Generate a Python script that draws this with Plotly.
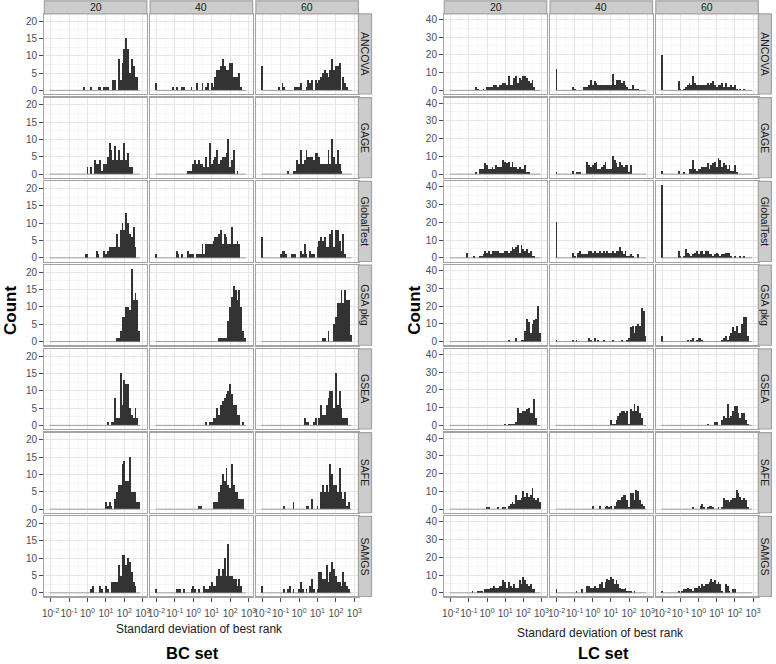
import plotly.graph_objects as go

# ---------------- data (histogram counts per log10 bin centre) ----------------
METHODS = ["ANCOVA", "GAGE", "GlobalTest", "GSA pkg", "GSEA", "SAFE", "SAMGS"]
GROUPS = ["20", "40", "60"]
BIN_WIDTH = 0.1
X_TICKS = [-2, -1, 0, 1, 2, 3]
X_TICK_TEXT = ["10<sup>-2</sup>", "10<sup>-1</sup>", "10<sup>0</sup>", "10<sup>1</sup>", "10<sup>2</sup>", "10<sup>3</sup>"]
X_MINOR = [-1.5, -0.5, 0.5, 1.5, 2.5]
BC_Y_TICKS = [0, 5, 10, 15, 20]
BC_Y_MINOR = [2.5, 7.5, 12.5, 17.5]
LC_Y_TICKS = [0, 10, 20, 30, 40]
LC_Y_MINOR = [5, 15, 25, 35]

BC_ANCOVA = {
    "20": {-0.2: 1, 0.2: 1, 0.6: 1, 0.7: 1, 0.9: 1, 1.0: 1, 1.1: 1, 1.4: 3, 1.5: 3, 1.7: 9, 1.8: 3, 1.9: 8, 2.0: 12,
           2.1: 15, 2.2: 12, 2.3: 5, 2.4: 9, 2.5: 7, 2.6: 4, 2.7: 4},
    "40": {-2.0: 2, -1.1: 1, -0.9: 1, -0.6: 1, -0.5: 1, -0.1: 1, 0.2: 2, 0.5: 2, 0.7: 1, 0.8: 2, 1.0: 2, 1.1: 1, 1.2: 4,
           1.3: 6, 1.4: 6, 1.5: 7, 1.6: 9, 1.7: 7, 1.8: 6, 1.9: 6, 2.0: 8, 2.1: 8, 2.2: 4, 2.3: 4, 2.4: 4, 2.5: 5, 2.6: 1},
    "60": {-2.0: 7, -1.1: 1, -0.9: 2, -0.8: 1, -0.2: 1, -0.1: 1, 0.0: 1, 0.1: 2, 0.4: 1, 0.5: 3, 0.6: 2, 0.7: 3, 0.9: 3,
           1.0: 2, 1.1: 3, 1.2: 4, 1.3: 5, 1.4: 6, 1.5: 5, 1.6: 4, 1.7: 6, 1.8: 9, 1.9: 6, 2.0: 7, 2.1: 7, 2.2: 8, 2.4: 4,
           2.5: 2, 2.6: 1},
}
BC_GAGE = {
    "20": {0.0: 2, 0.2: 2, 0.4: 4, 0.5: 3, 0.6: 3, 0.7: 4, 0.8: 1, 0.9: 3, 1.0: 3, 1.1: 5, 1.2: 9, 1.3: 7, 1.4: 4, 1.5: 8,
           1.6: 4, 1.7: 7, 1.8: 4, 1.9: 4, 2.0: 9, 2.1: 4, 2.2: 6, 2.3: 2, 2.4: 2},
    "40": {-0.3: 1, -0.2: 1, -0.1: 1, 0.0: 3, 0.1: 4, 0.2: 3, 0.3: 4, 0.4: 3, 0.5: 3, 0.6: 2, 0.7: 5, 0.8: 2, 0.9: 9,
           1.0: 3, 1.1: 4, 1.2: 5, 1.3: 7, 1.4: 3, 1.5: 4, 1.6: 5, 1.7: 5, 1.8: 6, 1.9: 10, 2.0: 2, 2.1: 4, 2.2: 7, 2.4: 1},
    "60": {-0.6: 1, -0.3: 1, -0.2: 1, -0.1: 4, 0.0: 3, 0.1: 7, 0.2: 3, 0.3: 4, 0.4: 7, 0.5: 5, 0.6: 5, 0.7: 5, 0.8: 4,
           0.9: 6, 1.0: 6, 1.1: 5, 1.2: 3, 1.3: 3, 1.4: 3, 1.5: 3, 1.6: 7, 1.7: 3, 1.8: 10, 1.9: 5, 2.0: 3, 2.1: 7, 2.2: 3,
           2.3: 1},
}
BC_GLOBALTEST = {
    "20": {-0.1: 1, 0.0: 1, 0.5: 2, 0.6: 1, 0.9: 2, 1.0: 1, 1.1: 2, 1.2: 3, 1.3: 3, 1.4: 3, 1.5: 3, 1.6: 7, 1.7: 3,
           1.8: 8, 1.9: 10, 2.0: 8, 2.1: 13, 2.2: 10, 2.3: 7, 2.4: 6, 2.5: 9, 2.6: 3},
    "40": {-2.0: 1, -0.9: 2, -0.8: 1, -0.6: 1, -0.3: 2, -0.2: 1, -0.1: 1, 0.0: 1, 0.2: 1, 0.3: 1, 0.4: 1, 0.5: 4, 0.6: 1,
           0.7: 4, 0.8: 4, 0.9: 4, 1.0: 4, 1.1: 5, 1.2: 6, 1.3: 6, 1.4: 7, 1.5: 8, 1.6: 4, 1.7: 7, 1.8: 6, 1.9: 4, 2.0: 4,
           2.1: 9, 2.2: 4, 2.3: 4, 2.4: 5, 2.5: 4},
    "60": {-2.0: 6, -1.0: 1, -0.9: 2, -0.8: 2, -0.7: 1, -0.4: 1, -0.3: 1, -0.2: 1, 0.1: 2, 0.2: 1, 0.3: 4, 0.4: 1, 0.6: 2,
           0.7: 1, 0.8: 1, 1.0: 3, 1.1: 5, 1.2: 6, 1.3: 5, 1.4: 6, 1.5: 3, 1.6: 3, 1.7: 7, 1.8: 8, 1.9: 3, 2.0: 8, 2.1: 8,
           2.2: 5, 2.3: 2, 2.4: 7, 2.5: 1},
}
BC_GSAPKG = {
    "20": {1.6: 1, 1.7: 1, 1.8: 3, 1.9: 7, 2.0: 7, 2.1: 10, 2.2: 10, 2.3: 9, 2.4: 21, 2.5: 12, 2.6: 14, 2.7: 12, 2.8: 3},
    "40": {1.4: 1, 1.5: 1, 1.6: 1, 1.7: 1, 1.8: 1, 1.9: 6, 2.0: 10, 2.1: 13, 2.2: 16, 2.3: 15, 2.4: 12, 2.5: 15, 2.6: 10,
           2.7: 3, 2.8: 1},
    "60": {1.3: 1, 1.4: 1, 1.6: 3, 1.9: 5, 2.0: 7, 2.1: 11, 2.2: 11, 2.3: 15, 2.4: 11, 2.5: 15, 2.6: 12, 2.7: 12, 2.8: 2},
}
BC_GSEA = {
    "20": {1.1: 1, 1.3: 1, 1.4: 1, 1.5: 8, 1.6: 2, 1.7: 2, 1.8: 15, 1.9: 6, 2.0: 13, 2.1: 12, 2.2: 12, 2.3: 5, 2.4: 3,
           2.5: 2, 2.6: 5, 2.7: 2},
    "40": {0.7: 1, 0.9: 1, 1.0: 1, 1.1: 2, 1.2: 2, 1.3: 5, 1.4: 3, 1.5: 6, 1.6: 7, 1.7: 8, 1.8: 9, 1.9: 10, 2.0: 12,
           2.1: 9, 2.2: 6, 2.3: 6, 2.4: 3, 2.5: 3, 2.7: 1},
    "60": {0.3: 2, 0.4: 1, 0.5: 1, 0.8: 1, 0.9: 2, 1.1: 2, 1.2: 6, 1.3: 3, 1.4: 3, 1.5: 6, 1.6: 8, 1.7: 10, 1.8: 10,
           1.9: 5, 2.0: 15, 2.1: 6, 2.2: 10, 2.3: 5, 2.4: 2, 2.5: 2, 2.6: 2},
}
BC_SAFE = {
    "20": {1.0: 2, 1.1: 1, 1.2: 2, 1.3: 1, 1.5: 3, 1.6: 5, 1.7: 7, 1.8: 7, 1.9: 13, 2.0: 14, 2.1: 8, 2.2: 8, 2.3: 15,
           2.4: 5, 2.5: 5, 2.6: 5, 2.7: 2, 2.8: 2},
    "40": {0.3: 1, 0.4: 1, 1.1: 2, 1.2: 2, 1.3: 2, 1.4: 5, 1.5: 7, 1.6: 10, 1.7: 8, 1.8: 12, 1.9: 7, 2.0: 6, 2.1: 13,
           2.2: 7, 2.3: 5, 2.4: 5, 2.5: 3, 2.6: 3, 2.7: 3},
    "60": {-0.8: 1, -0.3: 2, 0.4: 1, 0.5: 1, 0.7: 3, 1.0: 1, 1.2: 5, 1.3: 7, 1.4: 5, 1.5: 7, 1.6: 5, 1.7: 13, 1.8: 10,
           1.9: 7, 2.0: 7, 2.1: 5, 2.2: 12, 2.3: 5, 2.4: 3, 2.5: 5, 2.6: 1, 2.7: 2},
}
BC_SAMGS = {
    "20": {0.2: 1, 0.3: 2, 0.7: 2, 0.8: 1, 1.0: 2, 1.1: 1, 1.3: 3, 1.4: 3, 1.5: 3, 1.6: 3, 1.7: 8, 1.8: 5, 1.9: 11,
           2.0: 11, 2.1: 8, 2.2: 10, 2.3: 9, 2.4: 6, 2.5: 3, 2.6: 2},
    "40": {-2.0: 1, -0.9: 1, -0.8: 1, -0.7: 1, -0.5: 1, -0.1: 1, 0.0: 2, 0.1: 1, 0.3: 1, 0.6: 2, 0.7: 1, 0.8: 1, 0.9: 2,
           1.0: 3, 1.1: 2, 1.2: 2, 1.3: 5, 1.4: 7, 1.5: 5, 1.6: 7, 1.7: 10, 1.8: 5, 1.9: 14, 2.0: 5, 2.1: 5, 2.2: 4,
           2.3: 4, 2.4: 2, 2.5: 4, 2.6: 2},
    "60": {-2.0: 2, -0.8: 1, -0.6: 1, -0.5: 2, -0.3: 1, 0.0: 1, 0.1: 3, 0.2: 1, 0.4: 1, 0.6: 2, 0.7: 4, 0.8: 1, 1.0: 1,
           1.1: 6, 1.2: 6, 1.3: 4, 1.4: 4, 1.5: 8, 1.6: 3, 1.7: 6, 1.8: 9, 1.9: 7, 2.0: 5, 2.1: 3, 2.2: 3, 2.3: 2, 2.4: 6,
           2.5: 3, 2.6: 2, 2.7: 1},
}

LC_ANCOVA = {
    "20": {-0.6: 2, -0.5: 1, -0.2: 1, 0.0: 2, 0.1: 2, 0.2: 2, 0.3: 2, 0.4: 3, 0.5: 3, 0.6: 2, 0.7: 3, 0.8: 3, 0.9: 4,
           1.0: 4, 1.1: 3, 1.2: 8, 1.3: 3, 1.4: 3, 1.5: 7, 1.6: 8, 1.7: 4, 1.8: 7, 1.9: 6, 2.0: 8, 2.1: 8, 2.2: 7, 2.3: 5,
           2.4: 4, 2.5: 6, 2.6: 2},
    "40": {-2.0: 12, -1.1: 2, -1.0: 1, -0.5: 2, -0.4: 2, -0.3: 2, -0.2: 3, -0.1: 6, 0.0: 3, 0.1: 5, 0.2: 4, 0.3: 3,
           0.4: 3, 0.5: 3, 0.6: 3, 0.7: 3, 0.8: 3, 0.9: 3, 1.0: 3, 1.1: 9, 1.2: 3, 1.3: 6, 1.4: 6, 1.5: 6, 1.6: 4, 1.7: 5,
           1.8: 3, 1.9: 2, 2.0: 1, 2.1: 1, 2.2: 3, 2.3: 1, 2.4: 1, 2.5: 1},
    "60": {-2.0: 20, -1.1: 5, -1.0: 1, -0.8: 1, -0.7: 2, -0.6: 3, -0.5: 4, -0.4: 3, -0.3: 8, -0.2: 4, -0.1: 3, 0.0: 3,
           0.1: 3, 0.2: 3, 0.3: 3, 0.4: 3, 0.5: 4, 0.6: 3, 0.7: 4, 0.8: 5, 0.9: 3, 1.0: 2, 1.1: 3, 1.2: 3, 1.3: 4, 1.4: 2,
           1.5: 4, 1.6: 2, 1.7: 2, 1.8: 3, 1.9: 2, 2.0: 3, 2.1: 1, 2.3: 1, 2.5: 1},
}
LC_GAGE = {
    "20": {-0.6: 1, -0.4: 3, -0.3: 3, -0.2: 3, -0.1: 6, 0.0: 5, 0.1: 3, 0.2: 3, 0.3: 4, 0.4: 3, 0.5: 5, 0.6: 4, 0.7: 4,
           0.8: 4, 0.9: 8, 1.0: 7, 1.1: 6, 1.2: 7, 1.3: 4, 1.4: 7, 1.5: 4, 1.6: 4, 1.7: 3, 1.8: 4, 1.9: 3, 2.0: 3, 2.1: 5,
           2.2: 1, 2.3: 1},
    "40": {-2.0: 1, -1.1: 2, -0.9: 1, -0.8: 1, -0.7: 1, -0.3: 7, -0.2: 5, -0.1: 4, 0.0: 5, 0.1: 6, 0.2: 7, 0.3: 3,
           0.4: 3, 0.5: 4, 0.6: 5, 0.7: 7, 0.8: 3, 0.9: 3, 1.0: 3, 1.1: 10, 1.2: 8, 1.3: 6, 1.4: 4, 1.5: 7, 1.6: 5, 1.7: 4,
           1.8: 5, 1.9: 5, 2.0: 1, 2.1: 5},
    "60": {-2.0: 2, -1.1: 2, -0.8: 1, -0.5: 3, -0.4: 3, -0.3: 8, -0.2: 3, -0.1: 2, 0.0: 3, 0.1: 3, 0.2: 4, 0.3: 4,
           0.4: 4, 0.5: 6, 0.6: 3, 0.7: 5, 0.8: 6, 0.9: 7, 1.0: 4, 1.1: 9, 1.2: 8, 1.3: 4, 1.4: 6, 1.5: 5, 1.6: 3, 1.7: 5,
           1.8: 2, 1.9: 2, 2.0: 5, 2.1: 1},
}
LC_GLOBALTEST = {
    "20": {-1.1: 3, -0.7: 1, -0.4: 1, -0.3: 1, -0.2: 2, -0.1: 4, 0.0: 3, 0.1: 4, 0.2: 2, 0.3: 4, 0.4: 4, 0.5: 4, 0.6: 4,
           0.7: 3, 0.8: 3, 0.9: 3, 1.0: 4, 1.1: 4, 1.2: 3, 1.3: 4, 1.4: 6, 1.5: 5, 1.6: 6, 1.7: 7, 1.8: 3, 1.9: 7, 2.0: 5,
           2.1: 4, 2.2: 5, 2.3: 3, 2.4: 4, 2.5: 1, 2.6: 1},
    "40": {-2.0: 20, -1.1: 3, -1.0: 1, -0.8: 3, -0.7: 4, -0.6: 2, -0.5: 2, -0.4: 2, -0.3: 2, -0.2: 4, -0.1: 4, 0.0: 3,
           0.1: 4, 0.2: 3, 0.3: 3, 0.4: 4, 0.5: 3, 0.6: 4, 0.7: 3, 0.8: 4, 0.9: 3, 1.0: 3, 1.1: 4, 1.2: 3, 1.3: 4, 1.4: 4,
           1.5: 6, 1.6: 4, 1.7: 2, 1.8: 4, 1.9: 1, 2.0: 1, 2.1: 2, 2.2: 1, 2.5: 2},
    "60": {-2.0: 41, -1.1: 4, -1.0: 1, -0.8: 1, -0.7: 5, -0.6: 3, -0.5: 2, -0.4: 1, -0.3: 2, -0.2: 3, -0.1: 4, 0.0: 2,
           0.1: 4, 0.2: 4, 0.3: 2, 0.4: 4, 0.5: 4, 0.6: 2, 0.7: 2, 0.8: 1, 0.9: 2, 1.0: 3, 1.1: 2, 1.2: 1, 1.3: 2, 1.4: 2,
           1.5: 3, 1.6: 3, 1.7: 3, 1.8: 1, 2.0: 1, 2.3: 1, 2.5: 1},
}
LC_GSAPKG = {
    "20": {1.2: 1, 1.6: 2, 1.9: 1, 2.0: 1, 2.1: 6, 2.2: 13, 2.3: 11, 2.4: 5, 2.5: 10, 2.6: 12, 2.7: 13, 2.8: 20, 2.9: 5},
    "40": {-2.0: 1, -1.1: 1, -0.9: 1, -0.2: 2, -0.1: 1, 0.1: 2, 0.3: 1, 0.6: 1, 1.1: 1, 1.6: 1, 1.9: 1, 2.0: 2, 2.1: 8,
           2.2: 9, 2.3: 5, 2.4: 9, 2.5: 10, 2.6: 9, 2.7: 19, 2.8: 17, 2.9: 3},
    "60": {-2.0: 3, -0.6: 1, -0.4: 1, -0.3: 2, -0.1: 1, 0.0: 2, 0.1: 2, 0.2: 1, 1.3: 1, 1.4: 2, 1.5: 3, 1.6: 1, 1.7: 3,
           1.8: 5, 1.9: 8, 2.0: 6, 2.1: 9, 2.2: 5, 2.3: 5, 2.4: 10, 2.5: 14, 2.6: 14, 2.7: 3},
}
LC_GSEA = {
    "20": {1.0: 1, 1.2: 1, 1.3: 1, 1.4: 1, 1.5: 1, 1.6: 2, 1.7: 10, 1.8: 7, 1.9: 7, 2.0: 8, 2.1: 8, 2.2: 9, 2.3: 10,
           2.4: 7, 2.5: 7, 2.6: 15, 2.7: 4},
    "40": {1.0: 3, 1.1: 1, 1.2: 1, 1.3: 3, 1.4: 5, 1.5: 7, 1.6: 8, 1.7: 8, 1.8: 7, 1.9: 8, 2.0: 1, 2.1: 9, 2.2: 8,
           2.3: 12, 2.4: 8, 2.5: 11, 2.6: 7, 2.7: 4},
    "60": {0.5: 1, 0.9: 2, 1.0: 2, 1.3: 3, 1.4: 5, 1.5: 4, 1.6: 12, 1.7: 4, 1.8: 5, 1.9: 8, 2.0: 11, 2.1: 11, 2.2: 7,
           2.3: 4, 2.4: 7, 2.5: 7, 2.6: 3, 2.7: 1},
}
LC_SAFE = {
    "20": {0.0: 1, 0.1: 1, 0.6: 1, 0.9: 1, 1.0: 1, 1.2: 2, 1.3: 3, 1.4: 4, 1.5: 3, 1.6: 8, 1.7: 5, 1.8: 5, 1.9: 6,
           2.0: 10, 2.1: 7, 2.2: 9, 2.3: 7, 2.4: 8, 2.5: 12, 2.6: 6, 2.7: 5, 2.8: 6, 2.9: 4},
    "40": {0.0: 2, 0.4: 2, 0.7: 1, 0.8: 2, 0.9: 1, 1.0: 2, 1.2: 2, 1.3: 4, 1.4: 5, 1.5: 5, 1.6: 7, 1.7: 8, 1.8: 8,
           1.9: 5, 2.0: 1, 2.1: 9, 2.2: 9, 2.3: 5, 2.4: 11, 2.5: 10, 2.6: 5, 2.7: 3, 2.8: 2},
    "60": {-0.3: 1, 0.1: 2, 0.2: 3, 0.3: 1, 0.5: 1, 0.6: 2, 0.7: 2, 0.8: 1, 1.1: 1, 1.3: 1, 1.4: 6, 1.5: 5, 1.6: 5,
           1.7: 4, 1.8: 5, 1.9: 6, 2.0: 6, 2.1: 11, 2.2: 9, 2.3: 7, 2.4: 5, 2.5: 6, 2.6: 5, 2.7: 1},
}
LC_SAMGS = {
    "20": {-0.8: 1, -0.5: 1, -0.4: 1, -0.3: 1, -0.1: 2, 0.0: 2, 0.1: 2, 0.2: 3, 0.3: 3, 0.4: 4, 0.5: 3, 0.6: 3, 0.7: 4,
           0.8: 4, 0.9: 7, 1.0: 6, 1.1: 3, 1.2: 6, 1.3: 4, 1.4: 3, 1.5: 5, 1.6: 3, 1.7: 3, 1.8: 7, 1.9: 5, 2.0: 9, 2.1: 7,
           2.2: 5, 2.3: 4, 2.4: 5, 2.5: 2, 2.6: 2},
    "40": {-2.0: 2, -0.9: 1, -0.6: 2, -0.3: 4, -0.2: 4, -0.1: 3, 0.0: 3, 0.1: 4, 0.2: 3, 0.3: 3, 0.4: 5, 0.5: 6, 0.6: 3,
           0.7: 6, 0.8: 8, 0.9: 7, 1.0: 9, 1.1: 8, 1.2: 5, 1.3: 7, 1.4: 5, 1.5: 3, 1.6: 2, 1.7: 2, 1.8: 3, 1.9: 1, 2.0: 1,
           2.1: 1, 2.3: 1},
    "60": {-2.0: 1, -1.1: 1, -0.9: 1, -0.8: 2, -0.7: 2, -0.6: 3, -0.5: 2, -0.4: 2, -0.3: 1, -0.2: 3, -0.1: 3, 0.0: 4,
           0.1: 3, 0.2: 5, 0.3: 4, 0.4: 5, 0.5: 5, 0.6: 6, 0.7: 8, 0.8: 6, 0.9: 7, 1.0: 5, 1.1: 6, 1.2: 5, 1.3: 1, 1.5: 5,
           1.6: 4, 1.7: 1, 1.9: 2, 2.0: 2},
}

BC_DATA = {"ANCOVA": BC_ANCOVA, "GAGE": BC_GAGE, "GlobalTest": BC_GLOBALTEST, "GSA pkg": BC_GSAPKG,
           "GSEA": BC_GSEA, "SAFE": BC_SAFE, "SAMGS": BC_SAMGS}
LC_DATA = {"ANCOVA": LC_ANCOVA, "GAGE": LC_GAGE, "GlobalTest": LC_GLOBALTEST, "GSA pkg": LC_GSAPKG,
           "GSEA": LC_GSEA, "SAFE": LC_SAFE, "SAMGS": LC_SAMGS}

# ---------------- layout geometry (pixels) ----------------
W, H = 776, 664
PITCH_X = 106.6
PANEL_W = 103.3
TOP = 14.0
PITCH_Y = 84.0
PANEL_H = 80.3
STRIP = 13.2
FONT = "Liberation Sans, Arial, sans-serif"
BAR_COLOR = "#333333"
BORDER = "#A3A3A3"
STRIP_FILL = "#CCCCCC"
GRID_MAJOR = "#E6E6E6"
GRID_MINOR = "#F4F4F4"
TICK_COLOR = "#4D4D4D"

SETS = [
    dict(title="BC set", data=BC_DATA, left=42.7, xrange=[-2.34, 3.22], yrange=[-1.05, 22.05],
         yticks=BC_Y_TICKS, yminor=BC_Y_MINOR, count_x=8, xtitle_y=631, xtitle_x=199, set_x=192),
    dict(title="LC set", data=LC_DATA, left=445.7, xrange=[-2.36, 3.29], yrange=[-2.05, 43.05],
         yticks=LC_Y_TICKS, yminor=LC_Y_MINOR, count_x=415, xtitle_y=635, xtitle_x=603, set_x=606),
]


def fx(p):
    return p / W


def fy(p):
    return 1 - p / H


fig = go.Figure()
layout = {}
shapes = []
annotations = []
k = 0
for cfg in SETS:
    all_bins = [b for m in METHODS for g in GROUPS for b in cfg["data"][m][g]]
    lo, hi = min(all_bins) - BIN_WIDTH / 2, max(all_bins) + BIN_WIDTH / 2
    for r, method in enumerate(METHODS):
        for c, grp in enumerate(GROUPS):
            k += 1
            sfx = "" if k == 1 else str(k)
            x0 = cfg["left"] + c * PITCH_X
            x1 = x0 + PANEL_W
            yt = TOP + r * PITCH_Y
            yb = yt + PANEL_H
            bottom = r == len(METHODS) - 1
            left = c == 0
            layout["xaxis" + sfx] = dict(
                domain=[fx(x0), fx(x1)], anchor="y" + sfx, range=cfg["xrange"],
                tickmode="array", tickvals=X_TICKS, ticktext=X_TICK_TEXT, tickangle=0,
                showticklabels=bottom, ticks="outside" if bottom else "", ticklen=4, tickwidth=1,
                ticklabelstandoff=3,
                tickcolor=TICK_COLOR, tickfont=dict(family=FONT, size=10, color=TICK_COLOR),
                showgrid=True, gridcolor=GRID_MAJOR, gridwidth=1,
                minor=dict(tickmode="array", tickvals=X_MINOR, showgrid=True, gridcolor=GRID_MINOR,
                           gridwidth=0.8, ticks=""),
                showline=True, mirror=True, linecolor=BORDER, linewidth=1.3, zeroline=False, fixedrange=True)
            layout["yaxis" + sfx] = dict(
                domain=[fy(yb), fy(yt)], anchor="x" + sfx, range=cfg["yrange"],
                tickmode="array", tickvals=cfg["yticks"], tickangle=0,
                showticklabels=left, ticks="outside" if left else "", ticklen=4, tickwidth=1,
                tickcolor=TICK_COLOR, tickfont=dict(family=FONT, size=10, color=TICK_COLOR),
                showgrid=True, gridcolor=GRID_MAJOR, gridwidth=1,
                minor=dict(tickmode="array", tickvals=cfg["yminor"], showgrid=True, gridcolor=GRID_MINOR,
                           gridwidth=0.8, ticks=""),
                showline=True, mirror=True, linecolor=BORDER, linewidth=1.3, zeroline=False, fixedrange=True)

            counts = cfg["data"][method][grp]
            xs = sorted(counts)
            ys = [counts[v] for v in xs]
            fig.add_trace(go.Scatter(x=[lo, hi], y=[0, 0], mode="lines",
                                     line=dict(color="#8C8C8C", width=0.8),
                                     xaxis="x" + sfx, yaxis="y" + sfx, showlegend=False, hoverinfo="skip"))
            fig.add_trace(go.Bar(x=xs, y=ys, width=BIN_WIDTH,
                                 marker=dict(color=BAR_COLOR, line=dict(width=0)),
                                 xaxis="x" + sfx, yaxis="y" + sfx, showlegend=False, hoverinfo="skip"))

            # top strips
            if r == 0:
                shapes.append(dict(type="rect", xref="paper", yref="paper",
                                   x0=fx(x0), x1=fx(x1), y0=fy(yt), y1=fy(yt - STRIP),
                                   fillcolor=STRIP_FILL, line=dict(color=BORDER, width=1.2)))
                annotations.append(dict(text=grp, xref="paper", yref="paper",
                                        x=fx((x0 + x1) / 2), y=fy(yt - STRIP / 2),
                                        showarrow=False, xanchor="center", yanchor="middle",
                                        font=dict(family=FONT, size=10.5, color="#1A1A1A")))
            # right strips
            if c == len(GROUPS) - 1:
                shapes.append(dict(type="rect", xref="paper", yref="paper",
                                   x0=fx(x1), x1=fx(x1 + STRIP), y0=fy(yb), y1=fy(yt),
                                   fillcolor=STRIP_FILL, line=dict(color=BORDER, width=1.2)))
                annotations.append(dict(text=method, xref="paper", yref="paper",
                                        x=fx(x1 + STRIP / 2), y=fy((yt + yb) / 2), textangle=90,
                                        showarrow=False, xanchor="center", yanchor="middle",
                                        font=dict(family=FONT, size=10.5, color="#1A1A1A")))

    # titles
    annotations.append(dict(text="<b>Count</b>", xref="paper", yref="paper",
                            x=fx(cfg["count_x"]), y=fy(311), textangle=-90, showarrow=False,
                            xanchor="center", yanchor="middle",
                            font=dict(family=FONT, size=17, color="#000000")))
    annotations.append(dict(text="Standard deviation of best rank", xref="paper", yref="paper",
                            x=fx(cfg["xtitle_x"]), y=fy(cfg["xtitle_y"]), showarrow=False,
                            xanchor="center", yanchor="middle",
                            font=dict(family=FONT, size=12, color="#1A1A1A")))
    annotations.append(dict(text="<b>" + cfg["title"] + "</b>", xref="paper", yref="paper",
                            x=fx(cfg["set_x"]), y=fy(655), showarrow=False,
                            xanchor="center", yanchor="middle",
                            font=dict(family=FONT, size=16.5, color="#000000")))

layout.update(dict(width=W, height=H, autosize=False, margin=dict(l=0, r=0, t=0, b=0, pad=0),
                   paper_bgcolor="white", plot_bgcolor="white", bargap=0, barmode="overlay",
                   showlegend=False, shapes=shapes, annotations=annotations,
                   font=dict(family=FONT)))
fig.update_layout(**layout)

fig.write_html("out.html", config={"displayModeBar": False, "staticPlot": True},
               post_script="document.body.style.margin='0';document.body.style.overflow='hidden';")
